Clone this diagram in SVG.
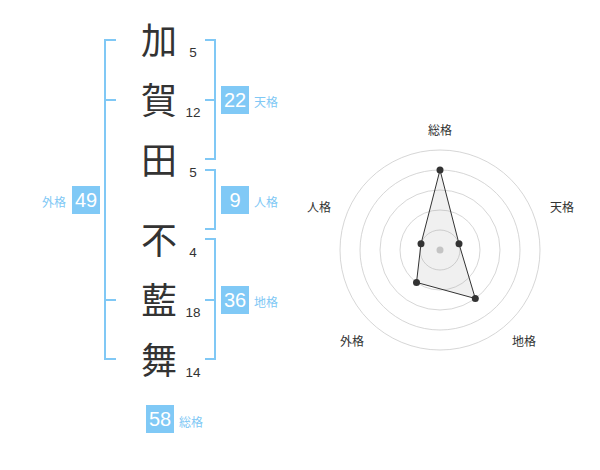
<svg xmlns="http://www.w3.org/2000/svg" width="600" height="470" viewBox="0 0 600 470">
<style>
.big{font-family:"Noto Sans CJK JP","Noto Sans CJK SC",sans-serif;font-size:36px;fill:#333;text-anchor:middle}
.num{font-family:"Liberation Sans",Arial,sans-serif;font-size:13.5px;fill:#333;text-anchor:middle}
.br{fill:none;stroke:#80c8f5;stroke-width:2}
.box{fill:#80c9f6}
.bn{font-family:"Liberation Sans",Arial,sans-serif;font-size:20px;fill:#fff;text-anchor:middle}
.lb{font-family:"Noto Sans CJK JP","Noto Sans CJK SC",sans-serif;font-size:12px;fill:#80c8f5}
.rl{font-family:"Noto Sans CJK JP","Noto Sans CJK SC",sans-serif;font-size:12px;fill:#333;text-anchor:middle}
.ring{fill:none;stroke:#ccc;stroke-width:0.8}
.pt{fill:#333}
</style>
<rect width="600" height="470" fill="#fff"/>
<g id="name">
<g id="c1"><text class="big" x="159" y="54">加</text><text class="num" x="193" y="57">5</text></g>
<g id="c2"><text class="big" x="159" y="114">賀</text><text class="num" x="193" y="117">12</text></g>
<g id="c3"><text class="big" x="159" y="174">田</text><text class="num" x="193" y="177">5</text></g>
<g id="c4"><text class="big" x="159" y="254">不</text><text class="num" x="193" y="257">4</text></g>
<g id="c5"><text class="big" x="159" y="314">藍</text><text class="num" x="193" y="317">18</text></g>
<g id="c6"><text class="big" x="159" y="374">舞</text><text class="num" x="193" y="377">14</text></g>
</g>
<g id="connectors">
<path class="br" d="M116,40 H105 V359 H116 M105,100 H116 M105,300 H116"/>
<path class="br" d="M205,40 H215 V159 H205 M215,100 H205"/>
<path class="br" d="M205,170 H215 V229 H205"/>
<path class="br" d="M205,239 H215 V359 H205 M215,300 H205"/>
</g>
<g id="tenkaku"><rect class="box" x="221" y="86" width="28" height="28"/><text class="bn" x="235" y="107">22</text><text class="lb" x="254" y="107">天格</text></g>
<g id="jinkaku"><rect class="box" x="221" y="186" width="28" height="28"/><text class="bn" x="235" y="207">9</text><text class="lb" x="254" y="207">人格</text></g>
<g id="chikaku"><rect class="box" x="221" y="286" width="28" height="28"/><text class="bn" x="235" y="307">36</text><text class="lb" x="254" y="307">地格</text></g>
<g id="gaikaku"><rect class="box" x="72" y="186" width="28" height="28"/><text class="bn" x="86" y="207">49</text><text class="lb" x="66" y="207" text-anchor="end">外格</text></g>
<g id="soukaku"><rect class="box" x="146" y="405" width="28" height="28"/><text class="bn" x="160" y="426">58</text><text class="lb" x="179" y="427">総格</text></g>
<g id="radar">
<circle class="ring" cx="440" cy="250" r="20"/>
<circle class="ring" cx="440" cy="250" r="40"/>
<circle class="ring" cx="440" cy="250" r="60"/>
<circle class="ring" cx="440" cy="250" r="80"/>
<circle class="ring" cx="440" cy="250" r="100"/>
<circle cx="440" cy="250" r="3.5" fill="#ccc"/>
<polygon points="440,170 459,243.8 475.3,298.5 416.5,282.4 421,243.8" fill="#999" fill-opacity="0.15" stroke="#333" stroke-width="1"/>
<circle class="pt" cx="440" cy="170" r="3.5"/>
<circle class="pt" cx="459" cy="243.8" r="3.5"/>
<circle class="pt" cx="475.3" cy="298.5" r="3.5"/>
<circle class="pt" cx="416.5" cy="282.4" r="3.5"/>
<circle class="pt" cx="421" cy="243.8" r="3.5"/>
<text class="rl" x="440" y="135">総格</text>
<text class="rl" x="562" y="212">天格</text>
<text class="rl" x="319" y="212">人格</text>
<text class="rl" x="352" y="346">外格</text>
<text class="rl" x="524" y="346">地格</text>
</g>
</svg>
